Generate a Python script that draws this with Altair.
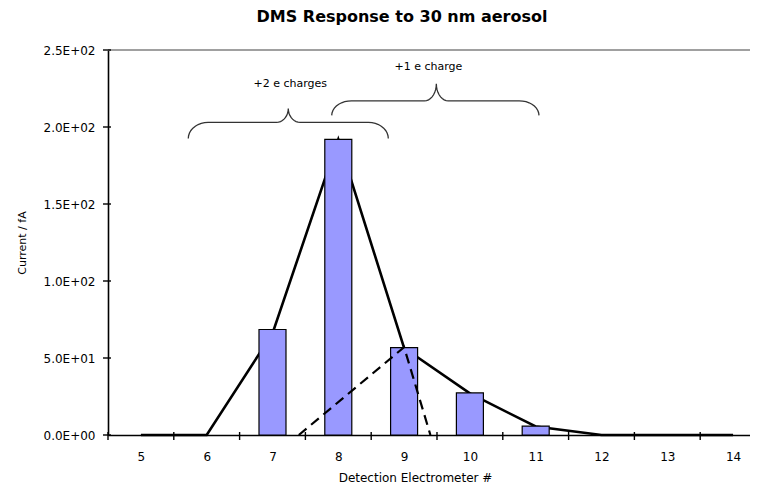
import json
import numpy as np
import pandas as pd
import altair as alt

# ---------------- data ----------------
electrometer = [5, 6, 7, 8, 9, 10, 11, 12, 13, 14]
fit_current = [0, 0, 66, 192, 56.5, 27, 5.5, 0, 0, 0]          # solid line
bar_channel = [7, 8, 9, 10, 11]
bar_current = [68.5, 192, 56.7, 27.3, 5.8]                      # measured bars
plus1_channel = [7.4, 9.0, 9.4]
plus1_current = [0, 57, 0]                                      # dashed +1 e component
y_ticks = [0, 50, 100, 150, 200, 250]
y_tick_labels = ["0.0E+00", "5.0E+01", "1.0E+02", "1.5E+02", "2.0E+02", "2.5E+02"]
x_boundaries = [4.5, 5.5, 6.5, 7.5, 8.5, 9.5, 10.5, 11.5, 12.5, 13.5]
annot_text = ["+2 e charges", "+1 e charge"]
annot_x = [7.27, 9.37]
annot_y = [228, 239]
# braces: (left end, right end, tip x, end y, shoulder y, tip y)
braces = {
    "+2": (5.72, 8.76, 7.24, 192.5, 203, 212),
    "+1": (7.90, 11.05, 9.49, 207.5, 217, 228),
}

FONT = "DejaVu Sans"
W, H = 642, 385


def brace_points(x0, x1, xt, ye, ym, ytip, ro=0.3, ri=0.18, n=10):
    def half(xe, s):
        pts = []
        for t in np.linspace(0, np.pi / 2, n):
            pts.append((xe + s * ro * (1 - np.cos(t)), ye + (ym - ye) * np.sin(t)))
        for t in np.linspace(0, np.pi / 2, n):
            pts.append((xt - s * ri + s * ri * np.sin(t), ym + (ytip - ym) * (1 - np.cos(t))))
        return pts
    return half(x0, 1) + half(x1, -1)[::-1]


rows = []
for name, spec in braces.items():
    for i, (bx, by) in enumerate(brace_points(*spec)):
        rows.append({"brace": name, "i": i, "x": bx, "y": by})
brace_df = pd.DataFrame(rows)

fit_df = pd.DataFrame({"x": electrometer, "y": fit_current})
bar_df = pd.DataFrame({"x": bar_channel, "y": bar_current})
plus1_df = pd.DataFrame({"x": plus1_channel, "y": plus1_current})
annot_df = pd.DataFrame({"t": annot_text, "x": annot_x, "y": annot_y})
xtick_df = pd.DataFrame({"x": x_boundaries})
ytick_df = pd.DataFrame({"y": y_ticks})
top_df = pd.DataFrame({"y": [250]})

x_scale = alt.Scale(domain=[4.5, 14.257], nice=False, zero=False, padding=0)
y_scale = alt.Scale(domain=[0, 250], nice=False)

label_expr = json.dumps(y_tick_labels) + "[round(datum.value / 50)]"

x_axis = alt.Axis(
    values=electrometer, ticks=False, tickSize=0, grid=False,
    domainColor="black", domainWidth=1.6,
    labelFont=FONT, labelFontSize=12, labelColor="black", labelPadding=16,
    titleFont=FONT, titleFontSize=12,
    titleFontWeight="normal", titleColor="black",
    titleX=307, titleY=42, titleBaseline="middle",
)
y_axis = alt.Axis(
    values=y_ticks, labelExpr=label_expr, ticks=False, tickSize=0, grid=False,
    domainColor="black", domainWidth=1.6,
    labelFont=FONT, labelFontSize=12, labelColor="black", labelPadding=13,
    titleFont=FONT, titleFontSize=11,
    titleFontWeight="normal", titleColor="black",
    titleX=-86, titleBaseline="middle",
)


def X():
    return alt.X("x:Q", scale=x_scale, axis=x_axis, title="Detection Electrometer #")


def Y():
    return alt.Y("y:Q", scale=y_scale, axis=y_axis, title="Current / fA")


top_border = alt.Chart(top_df).mark_rule(color="#a0a0a0", strokeWidth=2).encode(
    y=Y(), x=alt.value(0), x2=alt.value(W),
)

fit_line = alt.Chart(fit_df).mark_line(color="black", strokeWidth=2.6).encode(x=X(), y=Y())

bars = alt.Chart(bar_df).mark_bar(
    size=27, color="#9999FF", stroke="black", strokeWidth=1.2
).encode(x=X(), y=Y())

plus1_line = alt.Chart(plus1_df).mark_line(
    color="black", strokeWidth=2.2, strokeDash=[10, 6]
).encode(x=X(), y=Y())

x_ticks = alt.Chart(xtick_df).mark_rule(color="black", strokeWidth=1.4).encode(
    x=X(), y=alt.value(H - 3), y2=alt.value(H + 5),
)

y_tick_rules = alt.Chart(ytick_df).mark_rule(color="black", strokeWidth=1.4).encode(
    y=Y(), x=alt.value(-5), x2=alt.value(3),
)

brace_lines = alt.Chart(brace_df).mark_line(color="#333333", strokeWidth=1.3).encode(
    x=X(), y=Y(), detail="brace:N", order="i:Q",
)

annots = alt.Chart(annot_df).mark_text(
    font=FONT, fontSize=11, color="black", align="center", baseline="middle"
).encode(x=X(), y=Y(), text="t:N")

chart = alt.layer(
    top_border, fit_line, bars, plus1_line, x_ticks, y_tick_rules, brace_lines, annots
).properties(
    width=W, height=H,
    autosize=alt.AutoSizeParams(type="none"),
    padding={"left": 100, "top": 42, "right": 0, "bottom": 49},
    title=alt.TitleParams(
        "DMS Response to 30 nm aerosol", font=FONT, fontSize=16, fontWeight="bold",
        color="black", anchor="middle", dx=-27, offset=19,
    ),
).configure_view(stroke=None)

chart.save("out.html", embed_options={"renderer": "svg", "actions": False})
